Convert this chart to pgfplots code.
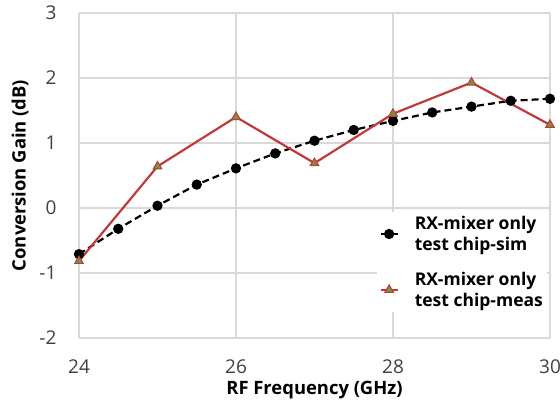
\documentclass[border=0pt]{standalone}
\usepackage{fontspec}
\setmainfont{Open Sans}
\usepackage{pgfplots}
\pgfplotsset{compat=1.18}
\definecolor{measred}{RGB}{192,57,59}
\definecolor{measfill}{RGB}{119,147,60}
\definecolor{gridgray}{RGB}{217,217,217}
\definecolor{ticktext}{RGB}{64,64,64}

\begin{document}
\begin{tikzpicture}[x=1pt,y=1pt]
\useasboundingbox (-79,-69) rectangle (481,338);
\begin{axis}[
  scale only axis,
  width=471pt, height=325pt,
  xmin=24, xmax=30, ymin=-2, ymax=3,
  xtick={24,26,28,30},
  ytick={-2,-1,0,1,2,3},
  grid=major,
  grid style={gridgray, line width=1.2pt},
  axis line style={draw=none},
  tick style={draw=none},
  tick label style={font=\fontsize{19}{22}\selectfont, text=ticktext},
  /pgf/number format/assume math mode=true,
  xticklabel style={yshift=-18pt},
  yticklabel style={xshift=-19pt},
  xlabel={\textbf{RF Frequency (GHz)}},
  ylabel={\textbf{Conversion Gain (dB)}},
  every axis x label/.style={at={(axis description cs:0.5,-0.16)}, anchor=center,
    font=\fontsize{18.4}{21}\selectfont},
  every axis y label/.style={at={(axis description cs:-0.125,0.5)}, rotate=90, anchor=center,
    font=\fontsize{18.4}{21}\selectfont},
  legend style={at={(axis cs:27.8,-0.06)}, anchor=north west, draw=none, fill=white,
    font=\fontsize{17.5}{21}\selectfont\bfseries, cells={align=left},
    row sep=16pt, column sep=14pt, inner sep=2pt},
  legend cell align=left,
]
\addplot[black, line width=2.2pt, dash pattern=on 7pt off 4pt, mark=*,
  mark size=4pt, mark options={solid}]
  coordinates {(24,-0.71) (24.5,-0.32) (25,0.035) (25.5,0.36) (26,0.61) (26.5,0.84)
    (27,1.035) (27.5,1.2) (28,1.34) (28.5,1.47) (29,1.56) (29.5,1.65) (30,1.68)};
\addlegendentry{RX-mixer only\\test chip-sim}
\addplot[measred, line width=2.2pt, mark=triangle*, mark size=5pt,
  mark options={fill=measfill, draw=measred, line width=1pt}]
  coordinates {(24,-0.815) (25,0.64) (26,1.40) (27,0.69) (28,1.45) (29,1.93) (30,1.28)};
\addlegendentry{RX-mixer only\\test chip-meas}
\end{axis}
\end{tikzpicture}
\end{document}
